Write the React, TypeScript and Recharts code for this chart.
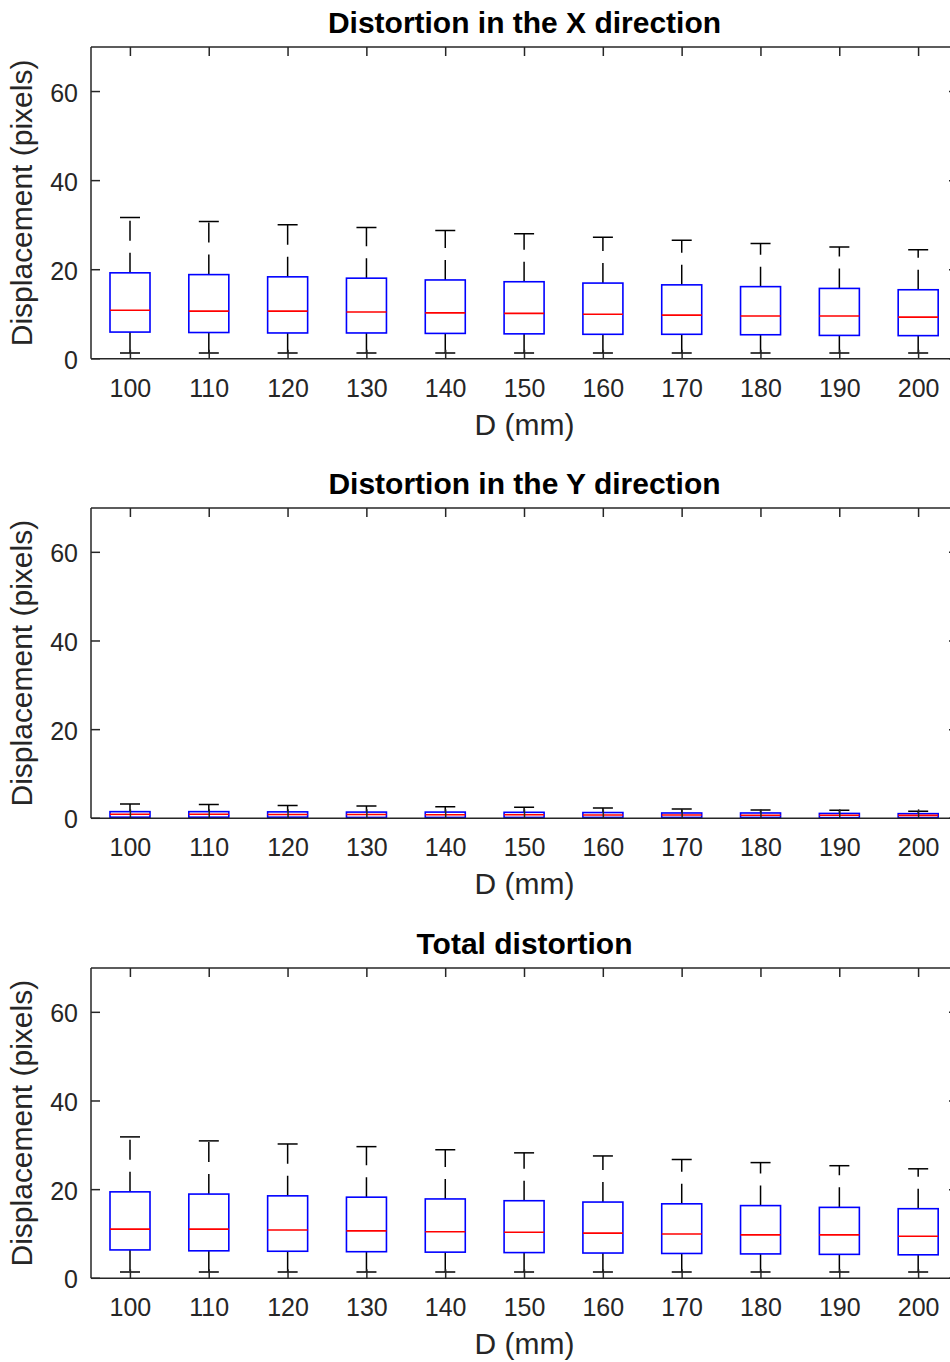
import React from 'react';
import { ComposedChart, Bar, XAxis, YAxis, Label } from 'recharts';

// ---------- data ----------
const categories = ['100', '110', '120', '130', '140', '150', '160', '170', '180', '190', '200'];
const yTicks = [0, 20, 40, 60];

// Distortion in the X direction
const xLow = [1.3, 1.3, 1.3, 1.3, 1.3, 1.3, 1.3, 1.3, 1.3, 1.3, 1.3];
const xQ1 = [6.0, 5.9, 5.8, 5.8, 5.7, 5.6, 5.5, 5.5, 5.4, 5.25, 5.2];
const xMed = [10.9, 10.7, 10.7, 10.5, 10.3, 10.2, 10.0, 9.8, 9.6, 9.6, 9.35];
const xQ3 = [19.3, 18.9, 18.4, 18.1, 17.7, 17.3, 17.0, 16.6, 16.2, 15.8, 15.5];
const xHigh = [31.7, 30.8, 30.1, 29.5, 28.8, 28.1, 27.3, 26.6, 25.9, 25.1, 24.5];

// Distortion in the Y direction
const yLow = [0.05, 0.05, 0.05, 0.05, 0.05, 0.05, 0.05, 0.05, 0.05, 0.05, 0.05];
const yQ1 = [0.25, 0.25, 0.25, 0.2, 0.2, 0.2, 0.2, 0.2, 0.2, 0.15, 0.15];
const yMed = [0.9, 0.9, 0.85, 0.85, 0.8, 0.8, 0.75, 0.75, 0.7, 0.7, 0.65];
const yQ3 = [1.5, 1.5, 1.45, 1.4, 1.4, 1.35, 1.3, 1.2, 1.2, 1.1, 1.05];
const yHigh = [3.2, 3.1, 2.9, 2.8, 2.6, 2.5, 2.3, 2.1, 1.9, 1.8, 1.6];

// Total distortion
const tLow = [1.4, 1.4, 1.4, 1.4, 1.4, 1.4, 1.4, 1.4, 1.4, 1.4, 1.4];
const tQ1 = [6.4, 6.2, 6.1, 6.0, 5.9, 5.8, 5.7, 5.6, 5.5, 5.4, 5.3];
const tMed = [11.1, 11.1, 10.9, 10.7, 10.5, 10.4, 10.2, 10.0, 9.8, 9.8, 9.5];
const tQ3 = [19.5, 19.0, 18.6, 18.3, 17.9, 17.5, 17.2, 16.8, 16.4, 16.0, 15.7];
const tHigh = [31.9, 31.0, 30.3, 29.7, 29.0, 28.3, 27.6, 26.8, 26.1, 25.4, 24.7];

const buildRows = (low: number[], q1: number[], med: number[], q3: number[], high: number[]) =>
  categories.map((c, i) => ({
    cat: c,
    range: [low[i], high[i]],
    low: low[i],
    q1: q1[i],
    med: med[i],
    q3: q3[i],
    high: high[i],
  }));

// ---------- styles ----------
const FONT = '"Liberation Sans", Arial, Helvetica, sans-serif';
const AXIS = '#262626';
const TICK_FS = 25;
const LABEL_FS = 30;
const TITLE_FS = 30;
const TICK_LEN = 9;
const LW = 1.5;
const MARGIN_TOP = 50;
const TOP_AXIS_H = 1;
const XAXIS_H = 100;

const panels = [
  { title: 'Distortion in the X direction', rows: buildRows(xLow, xQ1, xMed, xQ3, xHigh), plotTop: 46.7, plotH: 311.8 },
  { title: 'Distortion in the Y direction', rows: buildRows(yLow, yQ1, yMed, yQ3, yHigh), plotTop: 507.7, plotH: 310.3 },
  { title: 'Total distortion', rows: buildRows(tLow, tQ1, tMed, tQ3, tHigh), plotTop: 967.7, plotH: 310.3 },
];

// ---------- shapes ----------
const BoxShape = (props: any) => {
  const { x, y, width, height, payload } = props;
  if (!payload) return null;
  const { low, q1, med, q3, high } = payload;
  const top = Math.min(y, y + height);
  const h = Math.abs(height);
  const span = high - low;
  const py = (v: number) => top + ((high - v) / span) * h;
  const cx = x + width / 2;
  const capHalf = width / 4;
  const yLow = py(low);
  const yHigh = py(high);
  const yQ1 = py(q1);
  const yQ3 = py(q3);
  const yMed = py(med);
  return (
    <g>
      <line x1={cx} x2={cx} y1={yQ3} y2={yHigh} stroke="#000" strokeWidth={1.5} strokeDasharray="20 12" />
      <line x1={cx} x2={cx} y1={yQ1} y2={yLow} stroke="#000" strokeWidth={1.5} strokeDasharray="21 12" />
      <line x1={cx - capHalf} x2={cx + capHalf} y1={yHigh} y2={yHigh} stroke="#000" strokeWidth={1.5} />
      <line x1={cx - capHalf} x2={cx + capHalf} y1={yLow} y2={yLow} stroke="#000" strokeWidth={1.5} />
      <rect x={x} y={yQ3} width={width} height={yQ1 - yQ3} fill="none" stroke="#0000ff" strokeWidth={1.6} />
      <line x1={x} x2={x + width} y1={yMed} y2={yMed} stroke="#ff0000" strokeWidth={1.6} />
    </g>
  );
};

const LeftTick = (props: any) => {
  const { x, y, payload } = props;
  return (
    <g>
      <line x1={x} x2={x + TICK_LEN} y1={y} y2={y} stroke={AXIS} strokeWidth={LW} />
      <text x={x - 13} y={y + 10} textAnchor="end" fill={AXIS} fontSize={TICK_FS} fontFamily={FONT}>
        {payload.value}
      </text>
    </g>
  );
};

const RightTick = (props: any) => {
  const { x, y } = props;
  return <line x1={x - TICK_LEN} x2={x} y1={y} y2={y} stroke={AXIS} strokeWidth={LW} />;
};

const BottomTick = (props: any) => {
  const { x, y, payload } = props;
  return (
    <g>
      <line x1={x} x2={x} y1={y} y2={y - TICK_LEN} stroke={AXIS} strokeWidth={LW} />
      <text x={x} y={y + 38} textAnchor="middle" fill={AXIS} fontSize={TICK_FS} fontFamily={FONT}>
        {payload.value}
      </text>
    </g>
  );
};

const TopTick = (props: any) => {
  const { x, y } = props;
  return <line x1={x} x2={x} y1={y} y2={y + TICK_LEN} stroke={AXIS} strokeWidth={LW} />;
};

const makeTitle = (text: string) => (p: any) => {
  const vb = p.viewBox || {};
  return (
    <text
      x={vb.x + vb.width / 2}
      y={vb.y + vb.height - 14}
      textAnchor="middle"
      fill="#000"
      fontSize={TITLE_FS}
      fontWeight="bold"
      fontFamily={FONT}
    >
      {text}
    </text>
  );
};

const XLabel = (p: any) => {
  const vb = p.viewBox || {};
  return (
    <text x={vb.x + vb.width / 2} y={vb.y + 76} textAnchor="middle" fill={AXIS} fontSize={LABEL_FS} fontFamily={FONT}>
      D (mm)
    </text>
  );
};

const YLabel = (p: any) => {
  const vb = p.viewBox || {};
  const cx = 32;
  const cy = vb.y + vb.height / 2;
  return (
    <text
      x={cx}
      y={cy}
      transform={`rotate(-90 ${cx} ${cy})`}
      textAnchor="middle"
      fill={AXIS}
      fontSize={LABEL_FS}
      fontFamily={FONT}
    >
      Displacement (pixels)
    </text>
  );
};

const axisLineStyle = { stroke: AXIS, strokeWidth: LW };

export default function App() {
  return (
    <div
      style={{
        position: 'fixed',
        top: 0,
        left: 0,
        width: 950,
        height: 1362,
        overflow: 'hidden',
        background: '#fff',
      }}
    >
      {panels.map((pn) => (
        <div key={pn.title} style={{ position: 'absolute', left: 0, top: pn.plotTop - MARGIN_TOP }}>
          <ComposedChart
            width={959}
            height={MARGIN_TOP + pn.plotH + XAXIS_H}
            data={pn.rows}
            margin={{ top: MARGIN_TOP - TOP_AXIS_H, right: 0, bottom: 0, left: 0 }}
          >
            <XAxis
              dataKey="cat"
              type="category"
              height={XAXIS_H}
              interval={0}
              tickSize={0}
              tickMargin={0}
              tickLine={false}
              axisLine={axisLineStyle}
              tick={<BottomTick />}
            >
              <Label content={XLabel} />
            </XAxis>
            <XAxis
              xAxisId="top"
              dataKey="cat"
              type="category"
              orientation="top"
              height={TOP_AXIS_H}
              interval={0}
              tickSize={0}
              tickMargin={0}
              tickLine={false}
              axisLine={axisLineStyle}
              tick={<TopTick />}
            >
              <Label content={makeTitle(pn.title)} />
            </XAxis>
            <YAxis
              type="number"
              domain={[0, 70]}
              ticks={yTicks}
              width={91}
              interval={0}
              tickSize={0}
              tickMargin={0}
              tickLine={false}
              axisLine={axisLineStyle}
              tick={<LeftTick />}
              allowDataOverflow
            >
              <Label content={YLabel} />
            </YAxis>
            <YAxis
              yAxisId="right"
              orientation="right"
              type="number"
              domain={[0, 70]}
              ticks={yTicks}
              width={1}
              interval={0}
              tickSize={0}
              tickMargin={0}
              tickLine={false}
              axisLine={axisLineStyle}
              tick={<RightTick />}
              allowDataOverflow
            />
            <Bar dataKey="range" barSize={40} shape={<BoxShape />} isAnimationActive={false} />
          </ComposedChart>
        </div>
      ))}
    </div>
  );
}
